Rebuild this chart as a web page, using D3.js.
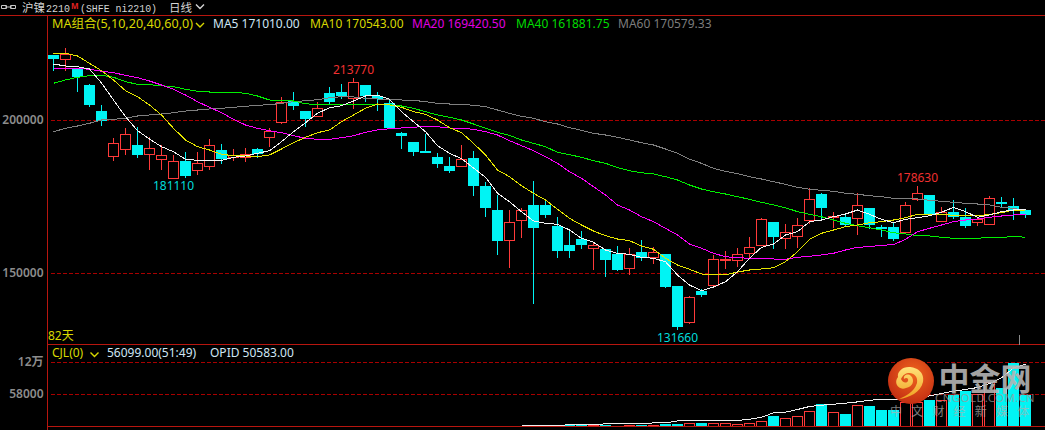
<!DOCTYPE html>
<html><head><meta charset="utf-8">
<script src="https://d3js.org/d3.v7.min.js"></script>
<style>
html,body{margin:0;padding:0;background:#000;overflow:hidden}
svg{display:block}
text{font-family:"Noto Sans","Noto Sans CJK SC",sans-serif;font-size:12px}
</style></head><body><svg id="c" width="1045" height="430"></svg>
<script>
const opens=[221180,219870,216830,211600,202780,188170,190460,191670,188820,187190,181110,186670,183600,185030,190260,187840,188070,190590,194510,199280,206370,203010,201240,208890,208990,207030,211600,207680,205620,195590,192650,189930,188070,185130,184900,187420,178270,170750,160720,167250,172060,172060,165520,159310,161270,158100,157910,156370,151570,156700,155160,156050,145590,133920,144180,146240,154310,154310,156470,159090,166830,161370,162030,167250,175980,168240,168460,167910,171080,165100,165100,163330,174250,175330,166930,170000,168140,166600,166080,173270,171960,170750];
const closes=[220100,221410,214220,205070,199940,192550,195490,188820,190920,188630,186670,181960,185880,191900,187520,188500,188730,189150,196470,205950,204840,200590,203990,206140,208010,212480,208010,207030,197550,195030,189800,189480,185880,183600,187320,178690,171500,160720,166730,170650,164970,169120,157450,157450,159410,159090,154510,151470,156280,155160,156930,145690,132610,142220,143300,154640,154640,156280,158560,167810,162030,163460,165750,174250,171410,168690,166080,172290,165950,164640,161600,172290,176210,169770,170000,168560,165620,167580,174580,172810,170750,169220];
const highs=[221180,223600,217060,211930,205070,194280,197550,197880,194610,191900,188630,189710,189710,193950,192220,190690,190920,190920,197550,207780,209220,203100,205950,210850,211930,213770,211600,209220,206700,196240,192650,195590,189280,188070,191990,190030,179800,175650,170750,171500,180230,173790,168460,164220,163890,160070,157910,158990,158240,160950,158560,156050,145590,142550,144940,156050,157350,158330,161830,168140,166830,166180,168040,177840,176310,170100,169670,176210,171080,165850,166410,173270,178630,175330,171730,173920,171410,168560,175230,174900,174580,170750];
const lows=[216180,216270,209410,204510,198200,186770,188730,187840,183920,183920,181110,181150,182190,183920,185880,186670,186540,187650,191440,198960,203430,197970,201050,205390,207130,203760,206140,203200,197120,190780,188500,189480,184580,182840,184900,175420,168560,156140,151900,161600,140130,168140,155160,155160,158010,151140,148950,150920,149510,154090,153110,145260,131660,133600,142320,145920,151570,152220,154970,159090,158100,158100,158430,166080,167480,164970,165520,162480,164540,162030,160720,163330,173690,169120,166930,167810,164970,165620,166080,171500,167580,168240];
const ma5=[218460,217810,217580,216830,212260,206700,201240,196670,193950,191440,189800,187320,186990,186990,186990,187970,188400,189280,190130,193070,196340,199280,202350,204180,204840,206370,208010,208330,206930,202880,199610,196340,191770,189280,187520,184480,181440,176210,173460,170200,167160,166410,166080,164220,161500,160200,157680,156600,156280,155290,154970,153860,149510,146240,144380,145590,147320,150590,154970,158560,159640,162580,163660,166930,167480,168560,169440,170750,169350,167710,166600,167710,168240,168890,170000,171630,170200,168370,169120,170200,170750,171010];
const ma10=[221730,221960,221080,218690,216270,213240,209740,207780,205070,201800,197450,193630,191440,190360,188950,188500,188400,188170,188730,190690,192750,194510,196010,196900,199610,201800,203990,205390,205070,204310,202880,202030,200160,197650,196010,192550,188730,183820,181630,178690,176210,174020,170980,168040,165850,163890,162350,161270,160720,158990,157910,154970,152780,151370,149840,149510,149510,150490,151140,151470,151900,153860,157120,161180,163140,164220,165290,165850,166600,166930,167480,168240,169350,169350,169350,169020,169020,168790,169350,169870,170750,170540];
const ma20=[217060,217060,217060,216730,216080,215620,214770,213990,212910,211600,210200,208330,206140,204310,202550,200390,198530,197450,196670,196010,195030,194180,193860,193860,194380,195030,196140,196900,197320,197550,197780,198100,197970,197550,197450,197120,196340,195260,193400,191770,190130,188170,186010,183270,181110,178370,175650,172390,170750,168560,166930,164770,162580,159640,158240,156600,155490,155160,154970,154840,154740,154640,155290,155620,156050,156600,157680,158560,158760,159220,159410,161180,163660,164770,165850,166930,167480,167810,168370,168790,169120,169420];
const ma40=[212160,213240,214120,214640,214770,214120,212680,211830,211700,211370,211050,210200,209540,209310,209220,209220,208890,208010,206700,206600,206370,205490,205160,205070,205160,205290,205290,205290,205160,204740,203990,202880,201800,201050,200160,198860,197450,196140,195160,193630,192550,191440,189610,188820,187970,186860,186010,184580,183600,182940,182520,181630,180560,178920,177610,176730,175980,175100,174250,173270,172390,171500,170200,169350,168560,167480,166410,165620,164970,164220,163330,162910,162350,162260,161830,161500,161500,161500,161830,161830,162030,161880];
const ma60=[196340,197450,198200,199090,200160,200390,200720,201470,201800,202130,202550,203100,203430,203760,203990,204310,204640,204970,205160,205620,206140,206470,206800,207450,207780,207680,207260,207030,206800,206700,206600,206140,205620,205390,205290,204970,204510,203430,202350,201370,200720,199610,198860,197650,196800,195820,195260,194510,193630,192750,191990,190690,189280,187320,186010,184380,183400,182610,181630,180880,180000,179150,178170,177520,177190,176860,176210,175880,175420,175100,174580,174580,174350,173920,173590,173270,172940,172710,172390,171630,171310,170580];
const volumes=[0,0,0,0,0,0,0,0,0,0,0,0,0,0,0,0,0,0,0,0,0,0,0,0,0,0,0,0,0,0,0,0,0,0,0,0,0,0,0,0,0,0,0,2360,2360,2360,1810,900,1810,1810,1810,3630,3630,4710,5440,4710,4710,2900,4710,9060,18130,14500,17400,27190,39880,25380,22290,38060,36790,29540,29540,43500,43500,47670,46400,56730,63980,58000,79750,68880,114190,56099];
const openInterest=[null,null,null,null,null,null,null,null,null,null,null,null,null,null,null,null,null,null,null,null,null,null,null,null,null,null,null,null,null,null,null,null,null,null,null,null,null,null,null,1090,1090,1090,1090,3630,3630,3630,4710,4710,4710,4710,6530,6530,10150,10880,10880,10880,10880,10880,13230,16860,24650,25920,30810,36250,38610,40420,42230,44590,47670,48940,48940,49480,51840,55460,59810,63980,67060,70690,77940,88090,106210,112920];
const priceTicks=[150000,200000];
const volumeTicks=[58000,116000];
const volumeTickLabels=["58000","12万"];
const extremes=[[25,213770,"hi"],[10,181110,"lo"],[52,131660,"lo"],[72,178630,"hi"]];
const maLegend=[["MA5","171010.00","#cfe6f5",213],["MA10","170543.00","#d8d800",310],["MA20","169420.50","#e000e0",412],["MA40","161881.75","#00dc00",516],["MA60","170579.33","#7d7d7d",618]];

const RED="#ff3a3a",CY="#00f4f4",FRAME="#b8160f",GRID="#a80000";
const svg=d3.select("#c");
svg.append("rect").attr("width",1045).attr("height",430).attr("fill","#000");
const idx=d3.range(opens.length);
const x=d3.scaleLinear().domain([0,81]).range([53.5,1025.5]);
const y=d3.scaleLinear().domain([150000,200000]).range([273.5,120.5]);
const yv=d3.scaleLinear().domain([0,116000]).range([426.5,362.5]);

function axis(scale,ticks,fmt){
  const g=svg.append("g").attr("transform","translate(47.5,0)")
    .call(d3.axisLeft(scale).offset(0).tickValues(ticks).tickFormat(fmt).tickSize(-1000).tickPadding(4));
  g.select(".domain").remove();
  g.selectAll("line").attr("stroke",GRID).attr("stroke-dasharray","4,2").attr("x1",3).attr("shape-rendering","crispEdges");
  g.selectAll("text").attr("fill","#8c8c8c").style("font-size","12px").style("font-weight","600");
}
axis(y,priceTicks,d3.format("d"));
axis(yv,volumeTicks,(d,i)=>volumeTickLabels[i]);

// frame
[[0,15.5,1045,15.5],[47.5,344.5,1045,344.5],[47.5,15.5,47.5,430]].forEach(l=>
  svg.append("line").attr("x1",l[0]).attr("y1",l[1]).attr("x2",l[2]).attr("y2",l[3]).attr("stroke",FRAME).attr("shape-rendering","crispEdges"));
svg.append("line").attr("x1",1019.5).attr("x2",1019.5).attr("y1",335).attr("y2",345).attr("stroke","#8a8a8a").attr("shape-rendering","crispEdges");

// candles
const up=i=>closes[i]>=opens[i];
const cg=svg.append("g").attr("shape-rendering","crispEdges");
cg.selectAll("line").data(idx).join("line")
  .attr("x1",x).attr("x2",x).attr("y1",i=>y(highs[i])).attr("y2",i=>y(lows[i]))
  .attr("stroke",i=>up(i)?RED:CY);
cg.selectAll("rect").data(idx).join("rect")
  .attr("x",i=>x(i)-5).attr("width",10)
  .attr("y",i=>y(Math.max(opens[i],closes[i])))
  .attr("height",i=>Math.max(1,y(Math.min(opens[i],closes[i]))-y(Math.max(opens[i],closes[i]))))
  .attr("fill",i=>up(i)?"#000":CY).attr("stroke",i=>up(i)?RED:CY);

// moving averages
const line=d3.line().x((d,i)=>x(i)).y(d=>y(d));
[[ma60,"#808080"],[ma40,"#00f000"],[ma20,"#ff00ff"],[ma10,"#e6e600"],[ma5,"#f4f4f4"]].forEach(s=>
  svg.append("path").attr("d",line(s[0])).attr("fill","none").attr("stroke",s[1]).attr("shape-rendering","crispEdges"));

// volume
const vg=svg.append("g").attr("shape-rendering","crispEdges");
vg.selectAll("rect").data(idx.filter(i=>volumes[i]>0)).join("rect")
  .attr("x",i=>x(i)-5).attr("width",10)
  .attr("y",i=>yv(volumes[i])).attr("height",i=>yv(0)-yv(volumes[i]))
  .attr("fill",i=>up(i)?"#000":CY).attr("stroke",i=>up(i)?RED:CY);
svg.append("path").attr("fill","none").attr("stroke","#f0f0f0").attr("shape-rendering","crispEdges")
  .attr("d",d3.line().defined(d=>d!==null).x((d,i)=>x(i)).y(d=>yv(d))(openInterest));
svg.append("line").attr("x1",47.5).attr("x2",1045).attr("y1",426.5).attr("y2",426.5).attr("stroke",FRAME).attr("shape-rendering","crispEdges");

// extreme labels
svg.selectAll("text.ext").data(extremes).join("text").attr("class","ext")
  .attr("x",d=>x(d[0])).attr("y",d=>y(d[1])+(d[2]==="hi"?-4:12)).attr("text-anchor","middle")
  .attr("fill",d=>d[2]==="hi"?"#f03030":"#00dcdc").text(d=>d[1]);

// header
function chevron(cx,cy,col){svg.append("path").attr("d",`M${cx-4},${cy-2}L${cx},${cy+2}L${cx+4},${cy-2}`).attr("fill","none").attr("stroke",col).attr("stroke-width",1.4);}
svg.append("path").attr("d","M1.5,5.5h5v3h-5zM10.5,5.5h5v3h-5zM5,7h7").attr("fill","none").attr("stroke","#c8c8c8");
svg.append("text").attr("x",22).attr("y",12).attr("fill","#d4d4d4").style("font-size","11.5px").text("沪镍");
svg.append("text").attr("x",46).attr("y",11.5).attr("fill","#d4d4d4").attr("textLength",24).attr("lengthAdjust","spacingAndGlyphs").style("font-family","Liberation Mono").style("font-size","11px").text("2210");
svg.append("text").attr("x",71).attr("y",8.5).attr("fill","#e02020").style("font-size","8px").style("font-weight","700").text("M");
svg.append("text").attr("x",80).attr("y",11.5).attr("fill","#d4d4d4").attr("textLength",77).attr("lengthAdjust","spacingAndGlyphs").style("font-family","Liberation Mono").style("font-size","11px").text("(SHFE ni2210)");
svg.append("text").attr("x",169).attr("y",12).attr("fill","#d4d4d4").style("font-size","11.5px").text("日线");
chevron(200,6.5,"#d4d4d4");
svg.append("text").attr("x",52).attr("y",28).attr("fill","#d8d800").attr("textLength",141).attr("lengthAdjust","spacingAndGlyphs").text("MA组合(5,10,20,40,60,0)");
chevron(200,25,"#d8d800");
maLegend.forEach(m=>svg.append("text").attr("x",m[3]).attr("y",28).attr("fill",m[2]).text(m[0]+" "+m[1]));
svg.append("text").attr("x",48).attr("y",340).attr("fill","#d8d800").text("82天");
svg.append("text").attr("x",52).attr("y",357).attr("fill","#d8d800").text("CJL(0)");
chevron(94.5,354.5,"#d8d800");
svg.append("text").attr("x",107).attr("y",357).attr("fill","#cfe6f5").text("56099.00(51:49)");
svg.append("text").attr("x",210).attr("y",357).attr("fill","#cfe6f5").text("OPID 50583.00");

// watermark
const defs=svg.append("defs");
const rg=defs.append("radialGradient").attr("id","lg").attr("cx","55%").attr("cy","35%").attr("r","70%");
rg.append("stop").attr("offset","0%").attr("stop-color","#f0651e");
rg.append("stop").attr("offset","100%").attr("stop-color","#c02a12");
const lg2=defs.append("linearGradient").attr("id","sw").attr("x1",0).attr("y1",0).attr("x2",0).attr("y2",1);
lg2.append("stop").attr("offset","0%").attr("stop-color","#ffe27a");
lg2.append("stop").attr("offset","100%").attr("stop-color","#f0a020");
svg.append("circle").attr("cx",911).attr("cy",381).attr("r",23).attr("fill","url(#lg)");
svg.append("path").attr("fill","url(#sw)")
  .attr("d","M899,399C909,398 921,392 923,382C925,372 916,367 909,367C902,367 897,372 898,377C893,383 899,391 906,388C913,387 915,380 911,376C908,373 903,375 904,379C906,377 909,378 908,381C906,384 902,382 901,379C905,369 919,372 917,383C914,392 906,396 899,399Z");
svg.append("text").attr("x",985).attr("y",390).attr("text-anchor","middle").attr("fill","#b4b4b4").attr("opacity",.9)
  .style("font-size","31px").style("font-weight","700").style("font-family","Noto Sans CJK SC").text("中金网");
svg.append("text").attr("x",985).attr("y",402).attr("text-anchor","middle").attr("fill","#9a9a9a").attr("opacity",.75)
  .style("font-size","11.5px").style("letter-spacing",".4px").text("CNGOLD.COM.CN");
["中","文","财","经","新","媒","体"].forEach((c,i)=>
  svg.append("text").attr("x",896+i*21.2).attr("y",416).attr("text-anchor","middle").attr("fill","#b0b0b0").attr("opacity",.7)
   .style("font-size","12px").text(c));
</script></body></html>
